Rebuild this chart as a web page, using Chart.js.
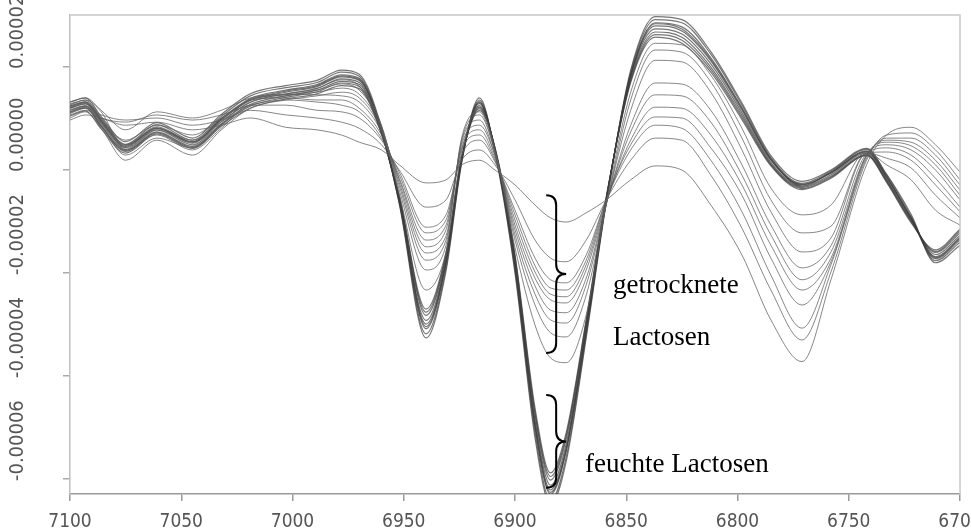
<!DOCTYPE html>
<html>
<head>
<meta charset="utf-8">
<script src="https://cdn.jsdelivr.net/npm/chart.js@4.4.0/dist/chart.umd.min.js"></script>
<style>
  html, body { margin: 0; padding: 0; background: #fff; }
  #wrap { width: 971px; height: 531px; position: relative; }
</style>
</head>
<body>
<div id="wrap"><canvas id="spektrum"></canvas></div>
<script>
// Wellenzahlen (cm-1), gemeinsam für alle Spektren
const wellenzahlen = [7100, 7093, 7086, 7075, 7061, 7045, 7032, 7019, 7003, 6989, 6978, 6970, 6960, 6952,
    6940, 6931, 6924, 6916, 6909, 6900, 6891, 6884, 6877, 6868, 6859, 6848, 6837, 6825, 6812, 6798,
    6785, 6771, 6758, 6742, 6733, 6722, 6711, 6700];

// Achsenbeschriftung
const xTicks = [7100, 7050, 7000, 6950, 6900, 6850, 6800, 6750, 6700];
const yTicks = [2, 0, -2, -4, -6]; // Einheit 1e-5

// feuchte Lactosen (Werte in 1e-5)
const feucht1 = [1.20,1.29,0.93,0.44,0.81,0.52,0.97,1.35,1.51,1.62,1.81,1.74,0.77,-0.58,-2.99,-1.78,0.19,1.29,0.39,-1.83,-4.92,-6.21,-5.40,-3.09,-0.58,1.83,2.80,2.70,2.12,1.16,0.19,-0.29,-0.06,0.35,-0.15,-0.93,-1.68,-1.31];
const feucht2 = [1.28,1.36,1.00,0.50,0.88,0.58,1.04,1.44,1.60,1.70,1.90,1.82,0.80,-0.62,-3.18,-1.90,0.15,1.36,0.36,-1.95,-5.10,-6.42,-5.58,-3.20,-0.62,1.90,2.92,2.86,2.25,1.26,0.24,-0.26,-0.02,0.40,-0.10,-0.90,-1.76,-1.40];
const feucht3 = [1.12,1.22,0.86,0.38,0.74,0.46,0.90,1.27,1.44,1.55,1.72,1.66,0.72,-0.55,-2.82,-1.68,0.22,1.22,0.42,-1.72,-4.75,-6.02,-5.22,-2.98,-0.55,1.76,2.68,2.58,2.00,1.06,0.12,-0.34,-0.12,0.30,-0.20,-0.98,-1.60,-1.22];
const feucht4 = [1.24,1.33,0.97,0.48,0.84,0.55,1.00,1.39,1.55,1.66,1.85,1.78,0.75,-0.64,-3.08,-1.82,0.20,1.31,0.37,-1.88,-5.00,-6.30,-5.46,-3.14,-0.60,1.86,2.86,2.78,2.18,1.21,0.22,-0.31,-0.04,0.37,-0.12,-0.95,-1.72,-1.36];
const feucht5 = [1.05,1.15,0.80,0.33,0.70,0.42,0.85,1.20,1.38,1.48,1.64,1.58,0.70,-0.50,-2.70,-1.60,0.24,1.16,0.44,-1.64,-4.62,-5.88,-5.10,-2.90,-0.52,1.70,2.58,2.46,1.90,0.98,0.08,-0.38,-0.16,0.28,-0.24,-1.02,-1.55,-1.15];
const feucht6 = [1.32,1.40,1.04,0.55,0.92,0.62,1.08,1.48,1.64,1.74,1.94,1.86,0.83,-0.66,-3.26,-1.96,0.13,1.40,0.34,-2.00,-5.20,-6.50,-5.66,-3.26,-0.64,1.94,2.98,2.92,2.30,1.30,0.28,-0.22,0.00,0.42,-0.08,-0.86,-1.80,-1.46];
const feucht7 = [1.16,1.25,0.90,0.40,0.78,0.49,0.94,1.31,1.48,1.58,1.77,1.70,0.74,-0.60,-2.92,-1.74,0.21,1.25,0.40,-1.78,-4.85,-6.12,-5.32,-3.04,-0.57,1.80,2.74,2.64,2.06,1.11,0.15,-0.32,-0.09,0.33,-0.18,-0.96,-1.64,-1.27];
const feucht8 = [1.22,1.31,0.95,0.46,0.82,0.54,0.99,1.37,1.53,1.64,1.83,1.76,0.79,-0.56,-3.04,-1.80,0.18,1.33,0.38,-1.86,-4.96,-6.26,-5.44,-3.12,-0.59,1.84,2.84,2.74,2.15,1.19,0.20,-0.28,-0.05,0.36,-0.14,-0.92,-1.70,-1.33];
const feucht9 = [1.10,1.20,0.84,0.36,0.72,0.44,0.88,1.24,1.41,1.52,1.69,1.62,0.71,-0.53,-2.76,-1.64,0.23,1.19,0.43,-1.68,-4.70,-5.95,-5.16,-2.94,-0.54,1.73,2.63,2.52,1.95,1.02,0.10,-0.36,-0.14,0.29,-0.22,-1.00,-1.58,-1.18];

// getrocknete Lactosen (Werte in 1e-5)
const trocken1 = [0.97,1.07,1.01,0.87,0.93,0.78,0.87,1.01,0.83,0.78,0.68,0.54,0.39,0.10,-0.25,-0.19,0.10,0.19,0.00,-0.29,-0.68,-0.93,-1.01,-0.83,-0.58,-0.19,0.08,0.00,-0.68,-1.65,-2.91,-3.72,-2.13,0.10,0.68,0.83,0.49,-0.04];
const trocken2 = [1.13,1.20,1.07,0.97,1.01,0.87,0.97,1.16,1.07,1.01,0.93,0.81,0.49,0.00,-0.72,-0.58,0.19,0.39,0.10,-0.58,-1.36,-1.71,-1.78,-1.36,-0.58,0.19,0.62,0.58,-0.10,-1.13,-2.33,-3.30,-1.98,0.19,0.68,0.72,0.39,-0.19];
const trocken3 = [1.26,1.36,1.13,0.39,0.68,0.39,0.81,1.26,1.26,1.16,1.13,1.01,0.58,-0.04,-1.11,-0.87,0.29,0.58,0.16,-0.78,-1.71,-2.13,-2.19,-1.65,-0.58,0.39,0.87,0.81,0.19,-0.81,-2.04,-3.07,-1.84,0.23,0.62,0.62,0.29,-0.29];
const trocken4 = [1.07,1.16,1.01,0.93,1.07,0.97,1.07,1.26,1.36,1.32,1.26,1.13,0.62,-0.10,-1.22,-0.97,0.39,0.68,0.19,-0.87,-1.86,-2.29,-2.33,-1.75,-0.58,0.49,1.03,1.01,0.43,-0.49,-1.71,-2.62,-1.78,0.27,0.58,0.54,0.19,-0.39];
const trocken5 = [1.16,1.24,0.87,0.29,0.62,0.43,0.87,1.36,1.40,1.36,1.36,1.20,0.68,-0.16,-1.36,-1.07,0.43,0.78,0.23,-0.97,-1.98,-2.41,-2.46,-1.84,-0.62,0.58,1.22,1.20,0.68,-0.29,-1.46,-2.33,-1.71,0.29,0.54,0.47,0.10,-0.49];
const trocken6 = [1.32,1.40,1.16,0.78,1.13,1.01,1.16,1.40,1.47,1.46,1.44,1.32,0.74,-0.19,-1.49,-1.16,0.49,0.87,0.29,-1.07,-2.10,-2.52,-2.58,-1.94,-0.64,0.74,1.46,1.44,0.93,-0.10,-1.26,-2.13,-1.59,0.29,0.49,0.39,0.00,-0.58];
const trocken7 = [1.01,1.13,0.81,0.19,0.58,0.29,0.78,1.20,1.36,1.44,1.51,1.40,0.78,-0.25,-1.61,-1.28,0.54,0.97,0.29,-1.16,-2.25,-2.72,-2.77,-2.10,-0.66,0.87,1.69,1.67,1.16,0.10,-1.07,-1.90,-1.47,0.31,0.43,0.29,-0.16,-0.72];
const trocken8 = [1.20,1.28,0.97,0.58,0.87,0.68,1.01,1.36,1.46,1.51,1.59,1.47,0.81,-0.31,-1.75,-1.36,0.58,1.07,0.35,-1.26,-2.41,-2.91,-2.97,-2.23,-0.66,1.16,2.13,2.10,1.51,0.39,-0.81,-1.59,-1.32,0.33,0.35,0.19,-0.29,-0.81];
const trocken9 = [1.13,1.24,1.01,0.49,0.81,0.58,0.93,1.32,1.44,1.55,1.67,1.55,0.85,-0.39,-1.94,-1.46,0.62,1.13,0.35,-1.36,-2.62,-3.16,-3.24,-2.43,-0.68,1.36,2.33,2.29,1.71,0.62,-0.58,-1.22,-1.09,0.33,0.23,0.04,-0.49,-0.93];
const trocken10 = [1.24,1.32,0.97,0.43,0.78,0.54,0.97,1.36,1.47,1.59,1.75,1.63,0.87,-0.47,-2.33,-1.59,0.35,1.20,0.39,-1.51,-3.01,-3.65,-3.74,-2.81,-0.66,1.51,2.46,2.43,1.84,0.81,-0.35,-0.87,-0.68,0.35,0.10,-0.19,-0.78,-1.07];

const feuchteSpektren = [feucht1, feucht2, feucht3, feucht4, feucht5, feucht6, feucht7, feucht8, feucht9];
const trockeneSpektren = [trocken1, trocken2, trocken3, trocken4, trocken5, trocken6, trocken7, trocken8, trocken9, trocken10];

// Klammern und Texte (Wellenzahl / Wert)
const klammern = [
    { wn: 6886, oben: -0.49, mitte: -2.02, unten: -3.55 },
    { wn: 6886, oben: -4.37, mitte: -5.27, unten: -6.17 }
];
const texte = [
    { text: 'getrocknete', wn: 6856, wert: -2.39 },
    { text: 'Lactosen', wn: 6856, wert: -3.40 },
    { text: 'feuchte Lactosen', wn: 6868.5, wert: -5.86 }
];

function toPoints(werte) {
    return werte.map((v, i) => ({ x: wellenzahlen[i], y: v }));
}

function makeDataset(werte, farbe, breite) {
    return {
        data: toPoints(werte),
        borderColor: farbe,
        borderWidth: breite,
        pointRadius: 0,
        fill: false,
        cubicInterpolationMode: 'monotone'
    };
}

const datasets = [];
trockeneSpektren.forEach(s => datasets.push(makeDataset(s, 'rgba(95, 95, 95, 0.75)', 1)));
feuchteSpektren.forEach(s => datasets.push(makeDataset(s, 'rgba(60, 60, 60, 0.7)', 1.2)));

// geschweifte Klammer, Spitze nach rechts
function drawBrace(ctx, xh, yTop, yMid, yBot, w) {
    ctx.beginPath();
    ctx.moveTo(xh, yTop);
    ctx.quadraticCurveTo(xh + w, yTop, xh + w, yTop + w);
    ctx.lineTo(xh + w, yMid - w);
    ctx.quadraticCurveTo(xh + w, yMid, xh + 2 * w, yMid);
    ctx.quadraticCurveTo(xh + w, yMid, xh + w, yMid + w);
    ctx.lineTo(xh + w, yBot - w);
    ctx.quadraticCurveTo(xh + w, yBot, xh, yBot);
    ctx.stroke();
}

const beschriftung = {
    id: 'beschriftung',
    afterDraw(chart) {
        const { ctx, chartArea: a, scales: { x, y } } = chart;
        ctx.save();

        // Rahmen oben und rechts
        ctx.strokeStyle = '#c8c8c8';
        ctx.lineWidth = 1.5;
        ctx.beginPath();
        ctx.moveTo(a.left, a.top);
        ctx.lineTo(a.right, a.top);
        ctx.lineTo(a.right, a.bottom);
        ctx.stroke();

        // x-Beschriftung
        ctx.fillStyle = '#555';
        ctx.font = '19px "Liberation Sans Narrow", "DejaVu Sans Condensed", sans-serif';
        ctx.textAlign = 'center';
        ctx.textBaseline = 'alphabetic';
        xTicks.forEach(v => ctx.fillText(String(v), x.getPixelForValue(v), a.bottom + 33));

        // y-Beschriftung, gedreht
        ctx.font = '20px "Liberation Sans Narrow", "DejaVu Sans Condensed", sans-serif';
        ctx.textAlign = 'left';
        ctx.textBaseline = 'middle';
        yTicks.forEach(v => {
            ctx.save();
            ctx.translate(18, y.getPixelForValue(v) + 2);
            ctx.rotate(-Math.PI / 2);
            ctx.fillText((v * 1e-5).toFixed(5), 0, 0);
            ctx.restore();
        });

        // Klammern
        ctx.strokeStyle = '#000';
        ctx.lineWidth = 2;
        klammern.forEach(k => {
            drawBrace(ctx, x.getPixelForValue(k.wn), y.getPixelForValue(k.oben),
                y.getPixelForValue(k.mitte), y.getPixelForValue(k.unten), 10);
        });

        // Texte
        ctx.fillStyle = '#000';
        ctx.font = '27px "Liberation Serif", "DejaVu Serif", serif';
        ctx.textAlign = 'left';
        ctx.textBaseline = 'alphabetic';
        texte.forEach(t => ctx.fillText(t.text, x.getPixelForValue(t.wn), y.getPixelForValue(t.wert)));

        ctx.restore();
    }
};

new Chart(document.getElementById('spektrum').getContext('2d'), {
    type: 'line',
    data: { datasets: datasets },
    options: {
        responsive: true,
        maintainAspectRatio: false,
        animation: false,
        devicePixelRatio: 1,
        layout: { padding: { top: 15, right: 11, left: 0, bottom: 0 } },
        plugins: {
            legend: { display: false },
            tooltip: { enabled: false }
        },
        scales: {
            x: {
                type: 'linear',
                reverse: true,
                min: 6700,
                max: 7100,
                afterBuildTicks: s => { s.ticks = xTicks.map(v => ({ value: v })); },
                afterFit: s => { s.height = 37; },
                ticks: { display: false },
                grid: { drawOnChartArea: false, drawTicks: true, tickLength: 7, color: '#9a9a9a', lineWidth: 1.5 },
                border: { color: '#9a9a9a', width: 1.5 }
            },
            y: {
                type: 'linear',
                min: -6.29,
                max: 3.01,
                afterBuildTicks: s => { s.ticks = yTicks.map(v => ({ value: v })); },
                afterFit: s => { s.width = 70; },
                ticks: { display: false },
                grid: { drawOnChartArea: false, drawTicks: true, tickLength: 7, color: '#aaa', lineWidth: 1.5 },
                border: { color: '#c0c0c0', width: 1.5 }
            }
        }
    },
    plugins: [beschriftung]
});
</script>
</body>
</html>
